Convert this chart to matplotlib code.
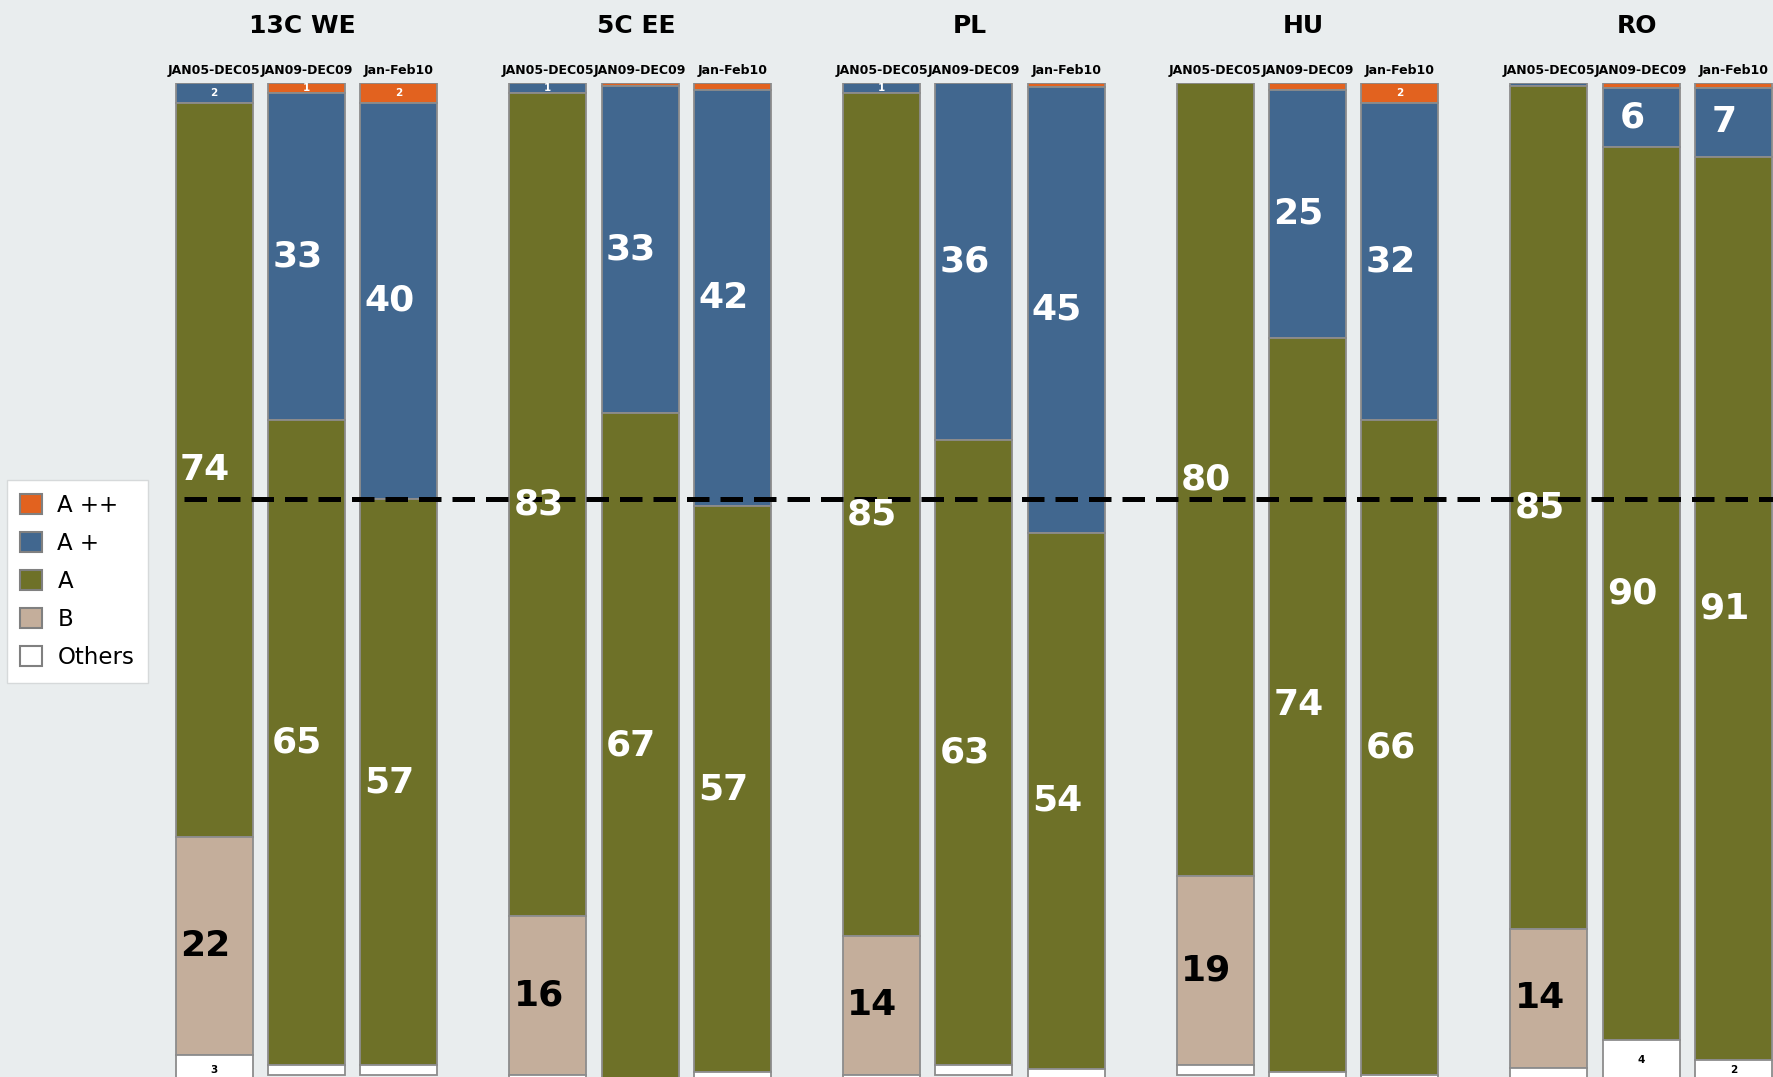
import matplotlib
matplotlib.use("Agg")

import matplotlib.pyplot as plt
from matplotlib.patches import Patch

# ---- data: share of each grade (%) per region and period ----
groups = ["13C WE", "5C EE", "PL", "HU", "RO"]
periods = ["JAN05-DEC05", "JAN09-DEC09", "Jan-Feb10"]

a_pp = [[0, 1, 2], [0, 0.3, 0.7], [0, 0, 0.4], [0, 0.7, 2], [0, 0.5, 0.5]]
a_p = [[2, 33, 40], [1, 33, 42], [1, 36, 45], [0, 25, 32], [0.3, 6, 7]]
a = [[74, 65, 57], [83, 67, 57], [85, 63, 54], [80, 74, 66], [85, 90, 91]]
b = [[22, 0, 0], [16, 0, 0], [14, 0, 0], [19, 0, 0], [14, 0, 0]]
others = [[3, 1, 1], [1, 1, 1], [1, 1, 1], [1, 1, 1], [1, 4, 2]]

reference_level = 58  # dashed line

# name, values, fill, text colour, smallest value that gets a label
series = [
    ("A ++", a_pp, "#E2621F", "white", 1),
    ("A +", a_p, "#41678F", "white", 1),
    ("A", a, "#6E7128", "white", 1),
    ("B", b, "#C4AE9B", "black", 1),
    ("Others", others, "white", "black", 2),
]

BG = "#E9EDEE"
EDGE = "#8C8C8C"
GROUP_STEP = 3.615
BAR_W = 0.834

fig = plt.figure(figsize=(17.73, 10.77), dpi=100, facecolor=BG)
ax = fig.add_axes([0, 0, 1, 1 - 82.7 / 1077])
ax.set_facecolor(BG)
ax.axis("off")

for g, group in enumerate(groups):
    for j, period in enumerate(periods):
        x = g * GROUP_STEP + j
        top = 100
        for name, vals, color, tcolor, min_lab in series:
            v = vals[g][j]
            if v <= 0:
                continue
            ax.bar(x, v, bottom=top - v, width=BAR_W, color=color,
                   edgecolor=EDGE, linewidth=1.3, zorder=2)
            if v >= min_lab:
                if v >= 5:
                    ax.text(x - 0.1, top - v / 2, f"{v:g}", color=tcolor,
                            fontsize=26, fontweight="bold", ha="center",
                            va="center", zorder=4, clip_on=True)
                else:
                    ax.text(x, top - v / 2, f"{v:g}", color=tcolor,
                            fontsize=7.5, fontweight="bold", ha="center",
                            va="center", zorder=4, clip_on=True)
            top -= v
        # period label above each bar
        ax.text(x, 100.88, period, fontsize=9, fontweight="bold",
                ha="center", va="baseline", clip_on=False)
    # region title
    ax.text(g * GROUP_STEP + 1 - 0.04, 104.98, group, fontsize=18,
            fontweight="bold", ha="center", va="baseline", clip_on=False)

x_left = -214.2 / 92.3
x_right = (1773 - 214.2) / 92.3
ax.plot([-0.327, x_right], [reference_level, reference_level], color="black",
        linewidth=3.6, dashes=(4.5, 2.2), zorder=3, solid_capstyle="butt")

ax.set_xlim(x_left, x_right)
ax.set_ylim(-2.3 / 9.92, 100)

handles = [Patch(facecolor=c, edgecolor="#808080", linewidth=1.5, label=n)
           for n, _, c, _, _ in series]
leg = fig.legend(handles=handles, loc="upper left",
                 bbox_to_anchor=(6.7 / 1773, 1 - 480 / 1077),
                 bbox_transform=fig.transFigure, borderaxespad=0,
                 fontsize=16.5, handlelength=0.96, handleheight=0.96,
                 handletextpad=0.65, labelspacing=0.66, borderpad=0.6,
                 fancybox=False, framealpha=1)
leg.get_frame().set_facecolor("white")
leg.get_frame().set_edgecolor("#D6D9DA")
leg.get_frame().set_linewidth(1)

fig.savefig("out.png", dpi=100, facecolor=BG)
